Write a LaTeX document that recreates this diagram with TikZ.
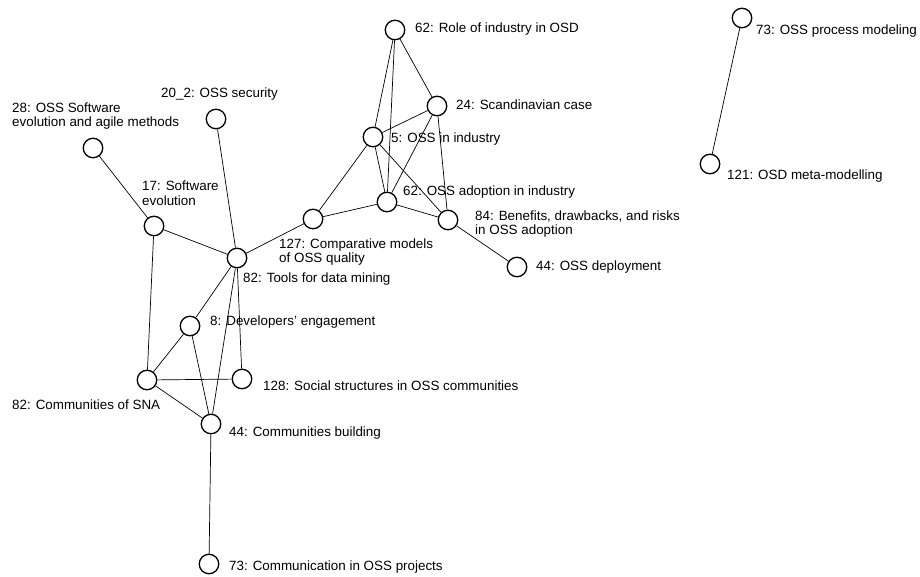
\documentclass[tikz,border=0pt]{standalone}
\usepackage{fontspec}
\setmainfont{Liberation Sans}
\usetikzlibrary{calc}

\begin{document}
\begin{tikzpicture}[
    x=1pt, y=-1pt,
    % Styles for topic circles, their texts and the links
    topic/.style={draw=black, line width=1.3pt, circle, minimum size=19.5pt, inner sep=0pt},
    topictext/.style={anchor=west, inner sep=0pt, align=left, font=\fontsize{13.4}{14.5}\selectfont},
    link/.style={draw=black, line width=0.7pt}
]

    \useasboundingbox (0, 0) rectangle (920, 577);

    % Topics

    %% Industry cluster
    \node[topic] (Role) at (395, 30) {};
    \node[topic] (Scand) at (437, 106) {};
    \node[topic] (Industry) at (373, 137) {};
    \node[topic] (Adoption) at (387, 202) {};
    \node[topic] (Benefits) at (448, 220) {};
    \node[topic] (Deploy) at (517, 267) {};
    \node[topic] (Compar) at (313, 219) {};

    %% Evolution and tools
    \node[topic] (Tools) at (237, 258) {};
    \node[topic] (Security) at (216, 119) {};
    \node[topic] (SoftEvol) at (154, 226) {};
    \node[topic] (Agile) at (93, 148) {};

    %% Communities cluster
    \node[topic] (Devel) at (190, 326) {};
    \node[topic] (SNA) at (147, 380) {};
    \node[topic] (Social) at (242, 379) {};
    \node[topic] (Building) at (211, 424) {};
    \node[topic] (Commun) at (209, 564) {};

    %% Modelling pair
    \node[topic] (Process) at (742, 18) {};
    \node[topic] (Meta) at (710, 164) {};


    % Texts

    \node[topictext] (RoleText) at (415, 29) {62: Role of industry in OSD};
    \node[topictext] (ScandText) at (456, 105) {24: Scandinavian case};
    \node[topictext] (IndustryText) at (391, 139) {5: OSS in industry};
    \node[topictext] (AdoptionText) at (403, 192) {62: OSS adoption in industry};
    \node[topictext] (BenefitsText) at (475, 224) {84: Benefits, drawbacks, and risks\\in OSS adoption};
    \node[topictext] (DeployText) at (536, 267) {44: OSS deployment};
    \node[topictext] (ComparText) at (279, 252) {127: Comparative models\\of OSS quality};
    \node[topictext] (ToolsText) at (243, 279) {82: Tools for data mining};
    \node[topictext] (SecurityText) at (161, 94) {20\_2: OSS security};
    \node[topictext] (SoftEvolText) at (142, 193) {17: Software\\evolution};
    \node[topictext] (AgileText) at (12, 116) {28: OSS Software\\evolution and agile methods};
    \node[topictext] (DevelText) at (210, 322) {8: Developers' engagement};
    \node[topictext] (SocialText) at (263, 386) {128: Social structures in OSS communities};
    \node[topictext] (SNAText) at (12, 405) {82: Communities of SNA};
    \node[topictext] (BuildingText) at (229, 433) {44: Communities building};
    \node[topictext] (CommunText) at (229, 567) {73: Communication in OSS projects};
    \node[topictext] (ProcessText) at (756, 31) {73: OSS process modeling};
    \node[topictext] (MetaText) at (727, 176) {121: OSD meta-modelling};


    % Links

    %% Industry cluster
    \draw[link] (Role) -- (Scand);
    \draw[link] (Role) -- (Industry);
    \draw[link] (Role) -- (Adoption);
    \draw[link] (Scand) -- (Industry);
    \draw[link] (Scand) -- (Adoption);
    \draw[link] (Scand) -- (Benefits);
    \draw[link] (Industry) -- (Adoption);
    \draw[link] (Industry) -- (Benefits);
    \draw[link] (Industry) -- (Compar);
    \draw[link] (Adoption) -- (Compar);
    \draw[link] (Adoption) -- (Benefits);
    \draw[link] (Benefits) -- (Deploy);

    %% Tools hub
    \draw[link] (Compar) -- (Tools);
    \draw[link] (Tools) -- (Security);
    \draw[link] (Tools) -- (SoftEvol);
    \draw[link] (Tools) -- (Devel);
    \draw[link] (Tools) -- (Building);
    \draw[link] (Tools) -- (Social);
    \draw[link] (SoftEvol) -- (Agile);
    \draw[link] (SoftEvol) -- (SNA);

    %% Communities cluster
    \draw[link] (Devel) -- (SNA);
    \draw[link] (Devel) -- (Building);
    \draw[link] (SNA) -- (Social);
    \draw[link] (SNA) -- (Building);
    \draw[link] (Building) -- (Commun);

    %% Modelling pair
    \draw[link] (Process) -- (Meta);

\end{tikzpicture}
\end{document}
